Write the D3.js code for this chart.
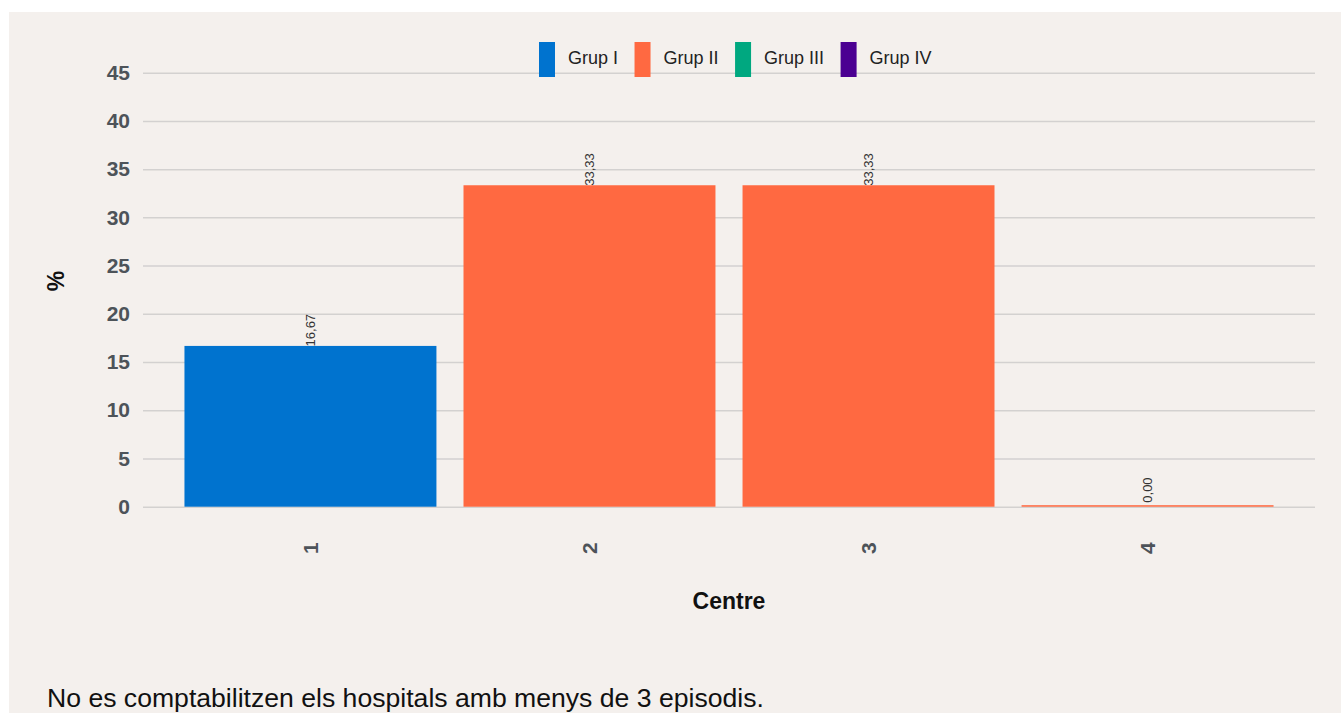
<!DOCTYPE html>
<html>
<head>
<meta charset="utf-8">
<script src="https://cdn.jsdelivr.net/npm/d3@7"></script>
<style>
  html, body { margin: 0; padding: 0; background: #ffffff; }
  svg { display: block; font-family: "Liberation Sans", Arial, sans-serif; }
</style>
</head>
<body>
<svg id="chart" width="1341" height="713"></svg>
<script>
// ---- Data ----
const categories = ["1", "2", "3", "4"];
const values = [16.67, 33.33, 33.33, 0.00];
const barGroups = ["Grup I", "Grup II", "Grup II", "Grup II"];
const legendGroups = ["Grup I", "Grup II", "Grup III", "Grup IV"];
const groupColors = ["#0073CF", "#FF6941", "#00A880", "#4B0092"];
const yTicks = [0, 5, 10, 15, 20, 25, 30, 35, 40, 45];
const xTitle = "Centre";
const yTitle = "%";
const caption = "No es comptabilitzen els hospitals amb menys de 3 episodis.";

// ---- Setup ----
const svg = d3.select("#chart");
const W = 1341, H = 713;
const plot = { left: 143, right: 1315, top: 72.7, bottom: 506.7 };

svg.append("rect").attr("x", 9).attr("y", 12).attr("width", W - 9).attr("height", H - 12)
  .attr("fill", "#f4f0ed");

const y = d3.scaleLinear().domain([0, 45]).range([plot.bottom, plot.top]);
const x = d3.scaleBand().domain(categories).range([144, 1314])
  .paddingInner(0.097).paddingOuter(0.145);
const color = d3.scaleOrdinal().domain(legendGroups).range(groupColors);
const locale = d3.formatLocale({ decimal: ",", thousands: ".", grouping: [3], currency: ["", "€"] });
const fmt = locale.format(".2f");

// ---- Grid & y axis ----
const yAxis = d3.axisLeft(y).tickValues(yTicks).tickSize(-(plot.right - plot.left)).tickPadding(13);
const gy = svg.append("g").attr("transform", `translate(${plot.left},0)`).call(yAxis);
gy.select(".domain").remove();
gy.selectAll(".tick line").attr("stroke", "#d3d1d0").attr("stroke-width", 1.5);
gy.selectAll(".tick text").attr("font-size", 21).attr("font-weight", "bold")
  .attr("fill", "#4d5359").attr("font-family", "Liberation Sans, Arial, sans-serif");

// ---- Value labels (under bars) ----
svg.append("g").selectAll("text").data(categories).join("text")
  .attr("transform", (d, i) => `translate(${x(d) + x.bandwidth() / 2},${Math.min(y(values[i]) + 0.5, y(0) - 4)}) rotate(-90)`)
  .attr("text-anchor", "start").attr("dy", "0.35em")
  .attr("font-size", 13).attr("fill", "#333")
  .text((d, i) => fmt(values[i]));

// ---- Bars ----
svg.append("g").selectAll("rect").data(categories).join("rect")
  .attr("x", d => x(d))
  .attr("width", x.bandwidth())
  .attr("y", (d, i) => Math.min(y(values[i]), y(0) - 1.5))
  .attr("height", (d, i) => y(0) - Math.min(y(values[i]), y(0) - 1.5))
  .attr("fill", (d, i) => color(barGroups[i]));

// ---- X tick labels ----
const xAxis = d3.axisBottom(x).tickSize(0).tickPadding(0);
const gx = svg.append("g").attr("transform", `translate(0,${plot.bottom})`).call(xAxis);
gx.select(".domain").remove();
gx.selectAll(".tick text")
  .attr("transform", "translate(0,35.5) rotate(-90)")
  .attr("x", 0).attr("y", 0).attr("dy", "0.35em")
  .attr("text-anchor", "end")
  .attr("font-size", 21).attr("font-weight", "bold").attr("fill", "#4d5359")
  .attr("font-family", "Liberation Sans, Arial, sans-serif");

// ---- Axis titles ----
svg.append("text").attr("x", (plot.left + plot.right) / 2).attr("y", 608.5)
  .attr("text-anchor", "middle").attr("font-size", 23).attr("font-weight", "bold")
  .attr("fill", "#111").text(xTitle);
svg.append("text").attr("transform", "translate(55.5,281) rotate(-90)")
  .attr("text-anchor", "middle").attr("dy", "0.35em").attr("font-size", 23)
  .attr("font-weight", "bold").attr("fill", "#111").text(yTitle);

// ---- Legend ----
const lg = svg.append("g");
let lx = 539;
legendGroups.forEach((g, i) => {
  lg.append("rect").attr("x", lx).attr("y", 42).attr("width", 16).attr("height", 35)
    .attr("fill", color(g));
  const t = lg.append("text").attr("x", lx + 29).attr("y", 63.5)
    .attr("font-size", 18).attr("fill", "#222").text(g);
  lx = lx + 29 + t.node().getComputedTextLength() + 16.5;
});

// ---- Caption ----
svg.append("text").attr("x", 47).attr("y", 707).attr("font-size", 26.6)
  .attr("fill", "#111").text(caption);
</script>
</body>
</html>
